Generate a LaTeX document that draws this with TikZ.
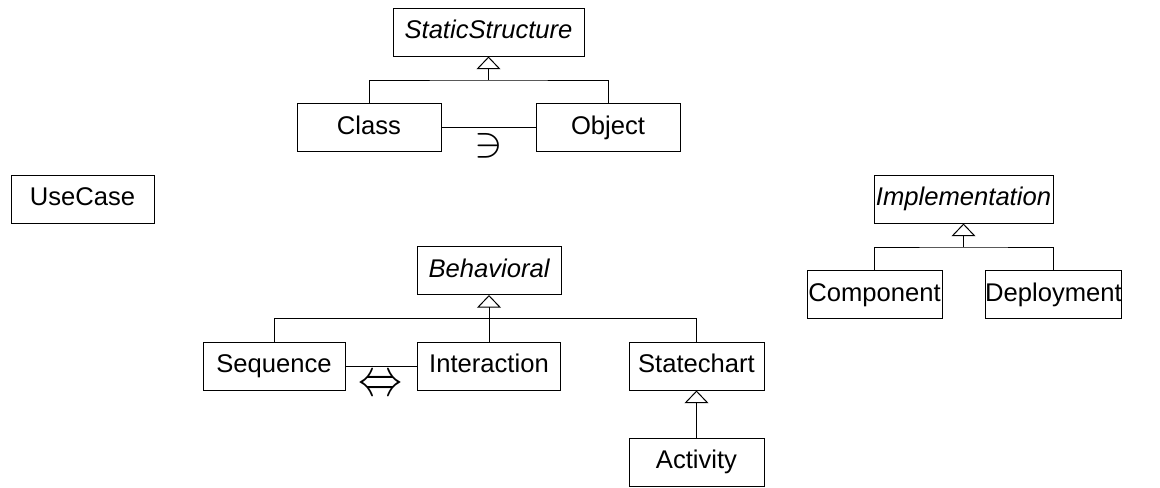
\documentclass[tikz,border=0pt]{standalone}
\usepackage{fontspec}
\setmainfont{Liberation Sans}
\usetikzlibrary{arrows.meta}

\begin{document}
\begin{tikzpicture}[x=0.75pt,y=0.75pt,yscale=-1,xscale=1,
	umlbox/.style={draw,line width=0.75,inner sep=0pt,minimum height=36pt,text height=14pt,text depth=4pt,font=\fontsize{19.2}{23}\selectfont},
	gen/.style={-{Triangle[open,length=9.5pt,width=18pt]},line width=0.75},
	assoc/.style={line width=0.75},
	relsym/.style={inner sep=0pt}]
	\useasboundingbox (0,0) rectangle (1160,487);

	\node [umlbox,minimum width=143.25pt] (ss) at (488.5,32) {\itshape StaticStructure};
	\node [umlbox,minimum width=108pt] (cls) at (369,127.5) {Class};
	\node [umlbox,minimum width=108pt] (obj) at (608,127.5) {Object};
	\node [umlbox,minimum width=107.25pt] (uc) at (82.5,199) {UseCase};
	\node [umlbox,minimum width=108pt] (beh) at (489,270.5) {\itshape Behavioral};
	\node [umlbox,minimum width=106.5pt] (seq) at (274,366) {Sequence};
	\node [umlbox,minimum width=107.25pt] (inter) at (489,366) {Interaction};
	\node [umlbox,minimum width=101.25pt] (sc) at (696.5,366) {Statechart};
	\node [umlbox,minimum width=101.25pt] (act) at (696.5,462) {Activity};
	\node [umlbox,minimum width=134.25pt] (impl) at (963.5,199) {\itshape Implementation};
	\node [umlbox,minimum width=101.25pt] (comp) at (874.5,294.5) {Component};
	\node [umlbox,minimum width=101.25pt] (dep) at (1053.5,294.5) {Deployment};

	\coordinate (ssbus) at (488.5,80);
	\draw [assoc] (cls.north) |- (ssbus) -| (obj.north);
	\draw [gen] (ssbus) -- (ss.south);
	\draw [assoc] (cls.east) -- (obj.west);
	\node [relsym,xscale=3.2,yscale=3.2] (member) at (489,145.5) {$\ni$};

	\coordinate (behbus) at (489,318);
	\draw [assoc] (seq.north) |- (behbus) -| (sc.north);
	\draw [gen] (inter.north) -- (beh.south);
	\draw [assoc] (seq.east) -- (inter.west);
	\node [relsym,xscale=3.3,yscale=3.9] (equiv) at (380.5,385.5) {$\Leftrightarrow$};
	\draw [gen] (act.north) -- (sc.south);

	\coordinate (implbus) at (963.5,247);
	\draw [assoc] (comp.north) |- (implbus) -| (dep.north);
	\draw [gen] (implbus) -- (impl.south);
\end{tikzpicture}
\end{document}
